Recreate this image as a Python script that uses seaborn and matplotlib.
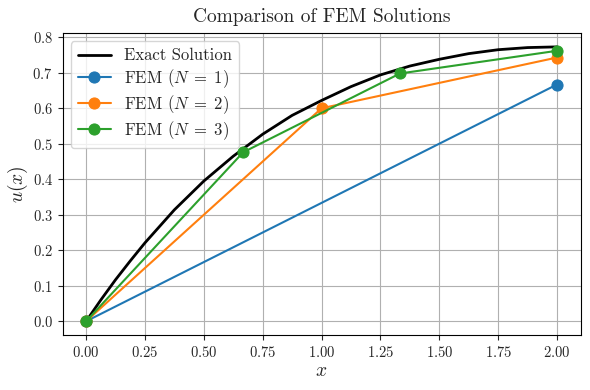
import numpy as np
import pandas as pd
import matplotlib
matplotlib.use("Agg")
import matplotlib.pyplot as plt
import seaborn as sns

# exact solution
x_exact = [0.0, 0.0625, 0.125, 0.1875, 0.25, 0.375, 0.5, 0.625, 0.75, 0.875, 1.0,
           1.125, 1.25, 1.375, 1.5, 1.625, 1.75, 1.875, 2.0]
u_exact = [0.0, 0.060, 0.117, 0.170, 0.221, 0.314, 0.395, 0.465, 0.527, 0.580, 0.622,
           0.661, 0.694, 0.719, 0.738, 0.754, 0.765, 0.771, 0.773]

# FEM nodal values
x_n1 = [0.0, 2.0]
u_n1 = [0.0, 0.667]
x_n2 = [0.0, 1.0, 2.0]
u_n2 = [0.0, 0.600, 0.743]
x_n3 = [0.0, 0.667, 1.333, 2.0]
u_n3 = [0.0, 0.476, 0.698, 0.762]

fem = [(x_n1, u_n1, r"FEM ($N\;=\;1$)", "#1f77b4"),
       (x_n2, u_n2, r"FEM ($N\;=\;2$)", "#ff7f0e"),
       (x_n3, u_n3, r"FEM ($N\;=\;3$)", "#2ca02c")]

sns.set_style("ticks")
plt.rcParams['font.family'] = 'serif'
plt.rcParams['font.serif'] = ['cmr10', 'DejaVu Serif']
plt.rcParams['mathtext.fontset'] = 'cm'
plt.rcParams['axes.formatter.use_mathtext'] = True
plt.rcParams['axes.unicode_minus'] = False

fig, ax = plt.subplots(figsize=(5.9, 3.9), dpi=100)

sns.lineplot(x=x_exact, y=u_exact, ax=ax, color="black", linewidth=2,
             label="Exact Solution")
for xs, us, lab, c in fem:
    sns.lineplot(x=xs, y=us, ax=ax, color=c, linewidth=1.5, marker="o",
                 markersize=8, markeredgecolor=c, label=lab)

ax.grid(True, color="#b0b0b0", linewidth=0.8)
ax.set_title("Comparison of FEM Solutions", fontsize=14, pad=8)
ax.set_xlabel("$x$", fontsize=14, labelpad=2)
ax.set_ylabel("$u(x)$", fontsize=14, labelpad=2)
ax.set_xticks(np.arange(0, 2.01, 0.25))
ax.set_yticks(np.arange(0, 0.81, 0.1))
ax.tick_params(labelsize=10.5)
for s in ax.spines.values():
    s.set_visible(True)
    s.set_color("black")
ax.legend(loc="upper left", fontsize=12, labelspacing=0.2,
          handlelength=2.0, borderpad=0.4)

fig.subplots_adjust(left=0.106, right=0.984, top=0.915, bottom=0.141)
plt.savefig("out.png", dpi=100)
